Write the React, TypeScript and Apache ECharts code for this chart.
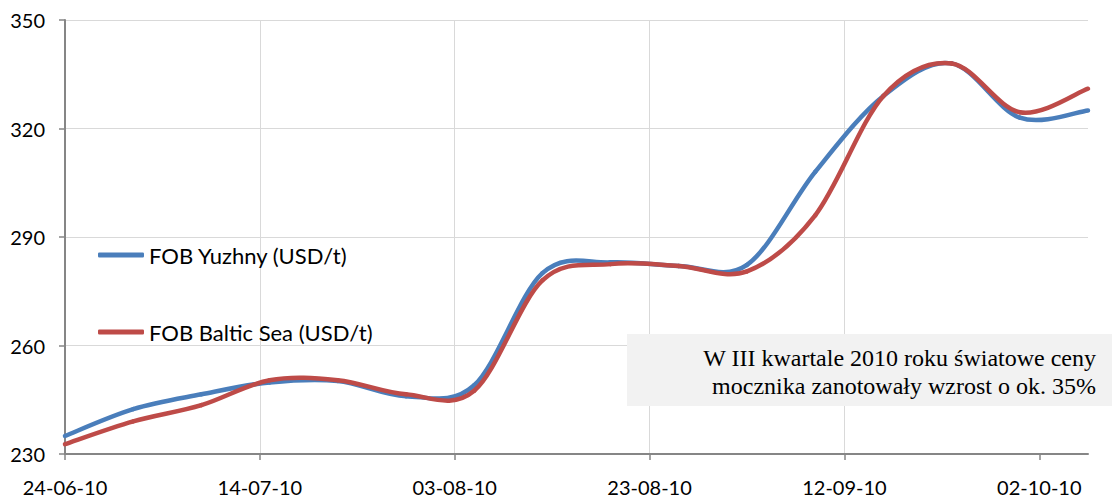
import React, { useEffect, useRef } from "react";
import * as echarts from "echarts";

// Weekly observations (dd-mm-yy dates shown on the axis)
const dates = [
  "2010-06-24", "2010-07-01", "2010-07-08", "2010-07-15", "2010-07-22", "2010-07-29",
  "2010-08-05", "2010-08-12", "2010-08-19", "2010-08-26", "2010-09-02", "2010-09-09",
  "2010-09-16", "2010-09-23", "2010-09-30", "2010-10-07",
];
const yuzhny = [235, 242.4, 246.5, 249.8, 250.2, 246, 249, 280, 283, 282, 282.3, 308, 329, 338, 323, 325];
const baltic = [232.7, 239, 243.5, 250.4, 250.4, 246.5, 247.5, 278, 282.5, 282, 280.5, 296, 329, 338, 324.5, 331];

const seriesNames = ["FOB Yuzhny (USD/t)", "FOB Baltic Sea (USD/t)"];
const seriesColors = ["#4A7EBB", "#BE4B48"];
const xTickLabels = ["24-06-10", "14-07-10", "03-08-10", "23-08-10", "12-09-10", "02-10-10"];
const xTickStepDays = 20;
const yMin = 230;
const yMax = 350;
const yStep = 30;
const noteLines = ["W III kwartale 2010 roku światowe ceny", "mocznika zanotowały wzrost o ok. 35%"];

const DAY = 86400000;
const start = Date.parse(dates[0]);
const dayOf = (d: string) => Math.round((Date.parse(d) - start) / DAY);
const days = dates.map(dayOf);
const lastDay = days[days.length - 1];

// Smoothed (Catmull-Rom) segment between point i and i+1, positioned through the axes
function makeRenderItem(values: number[], color: string) {
  return (params: any, api: any) => {
    const i = params.dataIndex;
    const n = values.length;
    if (i >= n - 1) return null;
    const c = (k: number) => {
      const j = Math.max(0, Math.min(n - 1, k));
      return api.coord([days[j], values[j]]);
    };
    const p0 = c(i - 1);
    const p1 = c(i);
    const p2 = c(i + 1);
    const p3 = c(i + 2);
    return {
      type: "bezierCurve",
      shape: {
        x1: p1[0],
        y1: p1[1],
        x2: p2[0],
        y2: p2[1],
        cpx1: p1[0] + (p2[0] - p0[0]) / 6,
        cpy1: p1[1] + (p2[1] - p0[1]) / 6,
        cpx2: p2[0] - (p3[0] - p1[0]) / 6,
        cpy2: p2[1] - (p3[1] - p1[1]) / 6,
      },
      style: { stroke: color, lineWidth: 4.5, fill: null, lineCap: "round" },
    };
  };
}

export default function App() {
  const ref = useRef<HTMLDivElement>(null);
  useEffect(() => {
    document.body.style.margin = "0";
    if (!ref.current) return;
    const chart = echarts.init(ref.current, null, { renderer: "svg" });
    const tickValues = xTickLabels.map((_, i) => i * xTickStepDays);
    const seriesValues = [yuzhny, baltic];
    chart.setOption({
      animation: false,
      backgroundColor: "#ffffff",
      grid: { left: 65, right: 24, top: 20, bottom: 47 },
      legend: {
        orient: "vertical",
        left: 93,
        top: 239,
        itemGap: 55,
        itemWidth: 46,
        itemHeight: 5,
        icon: "roundRect",
        textStyle: { fontFamily: "Lato", fontSize: 22, color: "#000" },
        data: seriesNames.map((name, i) => ({ name, itemStyle: { color: seriesColors[i] } })),
      },
      xAxis: {
        type: "value",
        min: 0,
        max: lastDay,
        interval: xTickStepDays,
        axisLine: { lineStyle: { color: "#868686", width: 2 } },
        axisTick: { length: 6, lineStyle: { color: "#868686", width: 1.5 }, customValues: tickValues },
        axisLabel: {
          customValues: tickValues,
          margin: 23,
          fontFamily: "Lato",
          fontSize: 20,
          color: "#000",
          formatter: (v: number) => xTickLabels[Math.round(v / xTickStepDays)] ?? "",
        },
        splitLine: { show: true, showMinLine: false, showMaxLine: false, lineStyle: { color: "#d9d9d9", width: 1 } },
      },
      yAxis: {
        type: "value",
        min: yMin,
        max: yMax,
        interval: yStep,
        axisLine: { show: true, lineStyle: { color: "#868686", width: 2 } },
        axisTick: { show: true, length: 6, lineStyle: { color: "#868686", width: 1.5 } },
        axisLabel: { margin: 20, fontFamily: "Lato", fontSize: 20, color: "#000" },
        splitLine: { show: true, showMinLine: false, lineStyle: { color: "#d9d9d9", width: 1 } },
      },
      series: seriesNames.map((name, s) => ({
        name,
        type: "custom",
        z: 3 + s,
        clip: false,
        itemStyle: { color: seriesColors[s] },
        encode: { x: 0, y: 1 },
        renderItem: makeRenderItem(seriesValues[s], seriesColors[s]),
        data: days.map((d, i) => [d, seriesValues[s][i]]),
      })),
      graphic: [
        {
          type: "rect",
          z: 100,
          shape: { x: 627, y: 334, width: 490, height: 72 },
          style: { fill: "#f2f2f2" },
        },
        {
          type: "text",
          z: 101,
          x: 1096,
          y: 344,
          style: {
            text: noteLines.join("\n"),
            font: '24px "Liberation Serif"',
            fill: "#000",
            align: "right",
            verticalAlign: "top",
            lineHeight: 28,
          },
        },
      ],
    });
    return () => chart.dispose();
  }, []);
  return <div ref={ref} style={{ width: 1112, height: 501 }} />;
}
